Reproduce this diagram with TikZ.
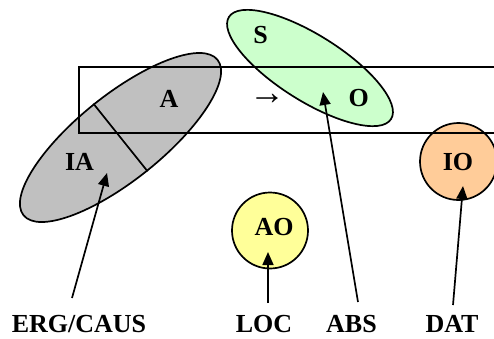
\documentclass[tikz,border=0pt]{standalone}
\usepackage{fontspec}
\setmainfont{Liberation Serif}
\usetikzlibrary{shapes.geometric,arrows.meta}
\definecolor{greyfill}{HTML}{C0C0C0}
\definecolor{greenfill}{HTML}{CCFFCC}
\definecolor{yellowfill}{HTML}{FFFF99}
\definecolor{orangefill}{HTML}{FFCC99}
\begin{document}
\begin{tikzpicture}[x=1pt,y=-1pt,line width=1.7pt,
  lbl/.style={font=\fontsize{26}{30}\selectfont\bfseries,anchor=base,inner sep=0pt},
  arr/.style={-{Triangle[length=13pt,width=11pt]}},
  ell/.style={ellipse,draw,inner sep=0pt},
  circ/.style={circle,draw,inner sep=0pt}]
\useasboundingbox (0,0) rectangle (494,338);
% shapes
\node[ell,fill=greyfill,minimum width=248.6pt,minimum height=85pt,rotate=38.7] (ga) at (120.5,137.5) {};
\node[ell,fill=greenfill,minimum width=191.6pt,minimum height=65.8pt,rotate=-32.2] (gr) at (310,68) {};
\node[circ,fill=yellowfill,minimum size=76pt] (ao) at (270,230.5) {};
\node[circ,fill=orangefill,minimum size=77pt] (io) at (458.5,161.5) {};
\draw (ga.north) -- (ga.south);
% frame
\draw (494,67) -- (79,67) -- (79,133) -- (494,133);
% inner labels
\node[lbl] (tA) at (169,107.3) {A};
\node[lbl] (tIA) at (79.5,170.7) {IA};
\node[lbl] (tS) at (260.7,43.3) {S};
\node[lbl] (tO) at (358.8,106.7) {O};
\node[lbl] (tIO) at (458,170.7) {IO};
\node[lbl] (tAO) at (274.2,235) {AO};
\node[font=\fontsize{36}{40}\selectfont,inner sep=0pt] (arrowsym) at (267,99.3) {→};
% bottom labels
\node[lbl] (erg) at (79,332) {ERG/CAUS};
\node[lbl] (loc) at (264,332) {LOC};
\node[lbl] (abs) at (351.5,332) {ABS};
\node[lbl] (dat) at (452,332) {DAT};
% arrow ends
\coordinate (ergs) at (72,298);
\coordinate (ergt) at (107,173);
\coordinate (locs) at (268,303);
\coordinate (loct) at (268,252);
\coordinate (abss) at (358,302);
\coordinate (abst) at (323,92);
\coordinate (dats) at (453,305);
\coordinate (datt) at (463,186);
\draw[arr] (ergs) -- (ergt);
\draw[arr] (locs) -- (loct);
\draw[arr] (abss) -- (abst);
\draw[arr] (dats) -- (datt);
\end{tikzpicture}
\end{document}
